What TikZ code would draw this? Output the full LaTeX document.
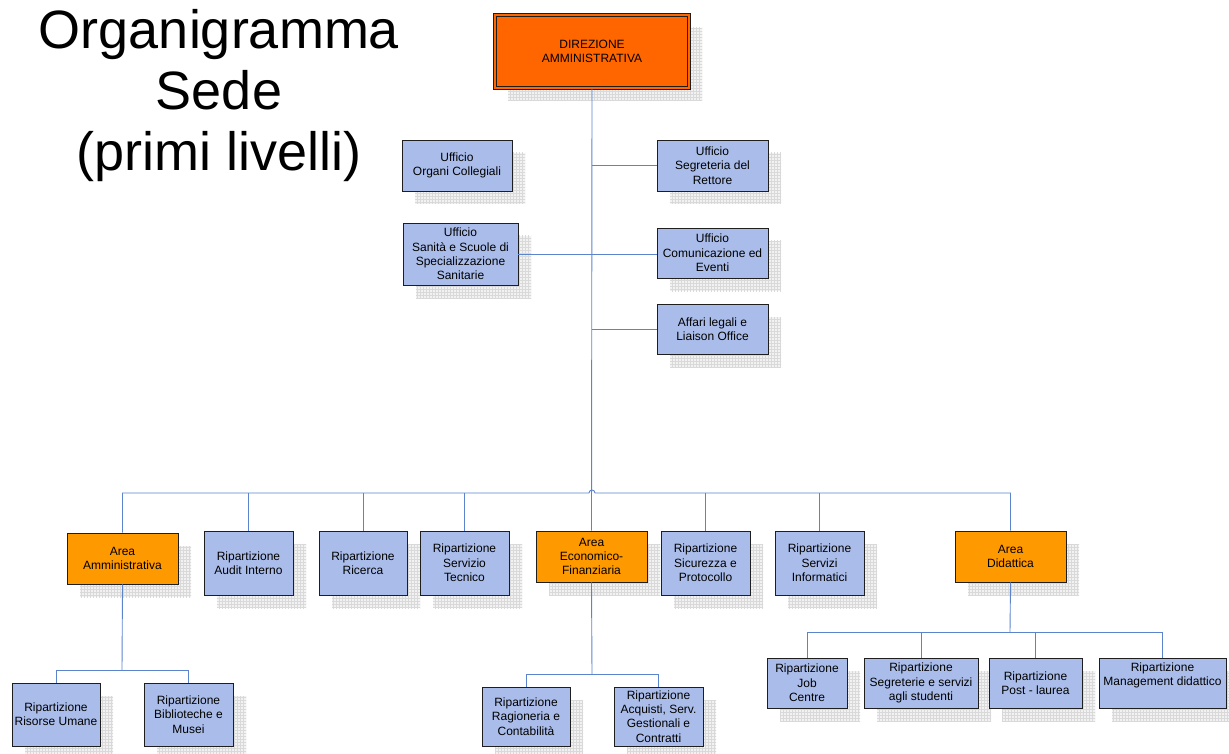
\documentclass[tikz,border=0pt]{standalone}
\usepackage{fontspec}
\setmainfont{Liberation Sans}
\usetikzlibrary{shadows,patterns}
\definecolor{boxblue}{RGB}{170,189,234}
\definecolor{areaorange}{RGB}{255,153,0}
\definecolor{dirorange}{RGB}{255,102,0}
\definecolor{linkblue}{RGB}{92,132,204}
\definecolor{boxedge}{RGB}{30,30,30}
\tikzset{
  gridshadow/.style={
    general shadow={shadow xshift=13pt,shadow yshift=-13pt,fill=gray!10,draw=none},
    general shadow={shadow xshift=13pt,shadow yshift=-13pt,pattern=grid,pattern color=gray!30,draw=none}},
  unit/.style={rectangle,draw=boxedge,line width=0.8pt,inner sep=1pt,align=center,
    font=\fontsize{12}{14.3}\selectfont,gridshadow},
  office/.style={unit,fill=boxblue},
  area/.style={unit,fill=areaorange},
  director/.style={unit,fill=dirorange,draw=boxedge,line width=0.8pt,
    double=dirorange,double distance=2.2pt},
  link/.style={draw=linkblue,line width=0.9pt},
  dim/.style n args={2}{minimum width=#1pt,minimum height=#2pt}
}
\begin{document}
\begin{tikzpicture}[x=1pt,y=-1pt]
\useasboundingbox (0,0) rectangle (1229,754);

% title
\node[font=\fontsize{54}{61}\selectfont,align=center] (title) at (219,96)
  {Organigramma\\Sede\\(primi livelli)};

% top management and staff offices
\node[director,dim={194}{73}] (dir) at (592,51.5) {DIREZIONE\\AMMINISTRATIVA};
\node[office,dim={110}{51}] (org) at (457,165.5) {Ufficio\\Organi Collegiali};
\node[office,dim={115}{62}] (san) at (460.5,254) {Ufficio\\Sanità e Scuole di\\Specializzazione\\Sanitarie};
\node[office,dim={111}{51}] (segr) at (712.5,165.5) {Ufficio\\Segreteria del\\Rettore};
\node[office,dim={111}{50}] (com) at (712.5,253) {Ufficio\\Comunicazione ed\\Eventi};
\node[office,dim={111}{50}] (aff) at (712.5,329) {Affari legali e\\Liaison Office};

% second level
\node[area,dim={111}{51}] (amm) at (122.5,558.5) {Area\\Amministrativa};
\node[office,dim={89}{64}] (audit) at (248.5,563) {Ripartizione\\Audit Interno};
\node[office,dim={88}{64}] (ric) at (363,563) {Ripartizione\\Ricerca};
\node[office,dim={89}{64}] (tec) at (464.5,563) {Ripartizione\\Servizio\\Tecnico};
\node[area,dim={111}{51}] (eco) at (591.5,556.5) {Area\\Economico-\\Finanziaria};
\node[office,dim={89}{64}] (sic) at (705.5,563) {Ripartizione\\Sicurezza e\\Protocollo};
\node[office,dim={89}{64}] (inf) at (819.5,563) {Ripartizione\\Servizi\\Informatici};
\node[area,dim={111}{51}] (did) at (1010.5,556.5) {Area\\Didattica};

% third level
\node[office,dim={88}{63}] (ris) at (56,714.5) {Ripartizione\\Risorse Umane};
\node[office,dim={89}{63}] (bib) at (188.5,714.5) {Ripartizione\\Biblioteche e\\Musei};
\node[office,dim={88}{59}] (rag) at (526,716.5) {Ripartizione\\Ragioneria e\\Contabilità};
\node[office,dim={89}{59}] (acq) at (658.5,716.5) {Ripartizione\\Acquisti, Serv.\\Gestionali e\\Contratti};
\node[office,dim={80}{50}] (job) at (807,683) {Ripartizione\\Job\\Centre};
\node[office,dim={114}{50}] (sst) at (921,683) {Ripartizione\\Segreterie e servizi\\agli studenti};
\node[office,dim={93}{50}] (post) at (1035.5,683) {Ripartizione\\Post - laurea};
\node[office,dim={127}{50},text depth=18pt] (mgt) at (1162.5,683) {Ripartizione\\Management didattico};

% connectors
\coordinate (bus) at (0,493);
\coordinate (hop) at (592,493);
\draw[link] (dir.south) -- (eco.north);
\draw[link] (segr.west) -- (segr.west -| dir.south);
\draw[link] (san.east) -- (san.east -| com.west);
\draw[link] (aff.west) -- (aff.west -| dir.south);
\draw[link] (amm.north) |- ([xshift=-3pt]hop)
  arc[start angle=180,end angle=0,radius=3pt] -| (did.north);
\foreach \n in {audit,ric,tec,sic,inf}
  \draw[link] (\n.north) -- (\n.north |- bus);

\coordinate (jamm) at (122,670);
\draw[link] (amm.south) -- (jamm);
\draw[link] (ris.north) |- (bib.north |- jamm) -- (bib.north);

\coordinate (jeco) at (592,674);
\draw[link] (eco.south) -- (jeco);
\draw[link] (rag.north) |- (acq.north |- jeco) -- (acq.north);

\coordinate (jdid) at (1010,632);
\draw[link] (did.south) -- (jdid);
\draw[link] (job.north) |- (mgt.north |- jdid) -- (mgt.north);
\draw[link] (sst.north) -- (sst.north |- jdid);
\draw[link] (post.north) -- (post.north |- jdid);
\end{tikzpicture}
\end{document}
